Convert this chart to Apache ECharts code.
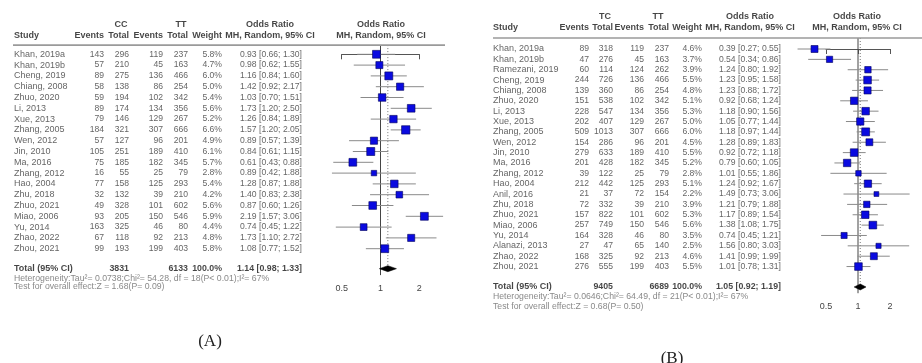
<!DOCTYPE html>
<html><head><meta charset="utf-8">
<script src="https://cdn.jsdelivr.net/npm/echarts@6/dist/echarts.min.js"></script>
<style>html,body{margin:0;padding:0;background:#fff}#c{width:922px;height:363px}</style>
</head><body><div id="c"></div>
<script>
// ---------- Panel A data (CC vs TT) ----------
const studiesA = ['Khan, 2019a','Khan, 2019b','Cheng, 2019','Chiang, 2008','Zhuo, 2020','Li, 2013','Xue, 2013','Zhang, 2005','Wen, 2012','Jin, 2010','Ma, 2016','Zhang, 2012','Hao, 2004','Zhu, 2018','Zhuo, 2021','Miao, 2006','Yu, 2014','Zhao, 2022','Zhou, 2021'];
const eventsA1 = [143,57,89,58,59,89,79,184,57,105,75,16,77,32,49,93,163,67,99];
const totalA1  = [296,210,275,138,194,174,146,321,127,251,185,55,158,132,328,205,325,118,193];
const eventsA2 = [119,45,136,86,102,134,129,307,96,189,182,25,125,39,101,150,46,92,199];
const totalA2  = [237,163,466,254,342,356,267,666,201,410,345,79,293,210,602,546,80,213,403];
const weightA  = [5.8,4.7,6.0,5.0,5.4,5.6,5.2,6.6,4.9,6.1,5.7,2.8,5.4,4.2,5.6,5.9,4.4,4.8,5.8];
const orA      = [0.93,0.98,1.16,1.42,1.03,1.73,1.26,1.57,0.89,0.84,0.61,0.89,1.28,1.40,0.87,2.19,0.74,1.73,1.08];
const loA      = [0.66,0.62,0.84,0.92,0.70,1.20,0.84,1.20,0.57,0.61,0.43,0.42,0.87,0.83,0.60,1.57,0.45,1.10,0.77];
const hiA      = [1.30,1.55,1.60,2.17,1.51,2.50,1.89,2.05,1.39,1.15,0.88,1.88,1.88,2.38,1.26,3.06,1.22,2.72,1.52];
const totalRowA = {ev1: 3831, ev2: 6133, or: 1.14, lo: 0.98, hi: 1.33};
const hetA  = 'Heterogeneity:Tau\u00b2= 0.0738;Chi\u00b2= 54.28, df = 18(P< 0.01);I\u00b2= 67%';
const testA = 'Test for overall effect:Z = 1.68(P= 0.09)';

// ---------- Panel B data (TC vs TT) ----------
const studiesB = ['Khan, 2019a','Khan, 2019b','Ramezani, 2019','Cheng, 2019','Chiang, 2008','Zhuo, 2020','Li, 2013','Xue, 2013','Zhang, 2005','Wen, 2012','Jin, 2010','Ma, 2016','Zhang, 2012','Hao, 2004','Anil, 2016','Zhu, 2018','Zhuo, 2021','Miao, 2006','Yu, 2014','Alanazi, 2013','Zhao, 2022','Zhou, 2021'];
const eventsB1 = [89,47,60,244,139,151,228,202,509,154,279,201,39,212,21,72,157,257,164,27,168,276];
const totalB1  = [318,276,114,726,360,538,547,407,1013,286,633,428,122,442,37,332,822,749,328,47,325,555];
const eventsB2 = [119,45,124,136,86,102,134,129,307,96,189,182,25,125,72,39,101,150,46,65,92,199];
const totalB2  = [237,163,262,466,254,342,356,267,666,201,410,345,79,293,154,210,602,546,80,140,213,403];
const weightB  = [4.6,3.7,3.9,5.5,4.8,5.1,5.3,5.0,6.0,4.5,5.5,5.2,2.8,5.1,2.2,3.9,5.3,5.6,3.5,2.5,4.6,5.5];
const orB      = [0.39,0.54,1.24,1.23,1.23,0.92,1.18,1.05,1.18,1.28,0.92,0.79,1.01,1.24,1.49,1.21,1.17,1.38,0.74,1.56,1.41,1.01];
const loB      = [0.27,0.34,0.80,0.95,0.88,0.68,0.90,0.77,0.97,0.89,0.72,0.60,0.55,0.92,0.73,0.79,0.89,1.08,0.45,0.80,0.99,0.78];
const hiB      = [0.55,0.86,1.92,1.58,1.72,1.24,1.56,1.44,1.44,1.83,1.18,1.05,1.86,1.67,3.06,1.88,1.54,1.75,1.21,3.03,1.99,1.31];
const totalRowB = {ev1: 9405, ev2: 6689, or: 1.05, lo: 0.92, hi: 1.19};
const hetB  = 'Heterogeneity:Tau\u00b2= 0.0646;Chi\u00b2= 64.49, df = 21(P< 0.01);I\u00b2= 67%';
const testB = 'Test for overall effect:Z = 0.68(P= 0.50)';

// ---------- axis ticks ----------
const tickValues = [0.5, 1, 2];
const tickLabels = ['0.5', '1', '2'];

// ---------- layout ----------
const FONT = '"Liberation Sans", Arial, sans-serif';
const L = {
  A: { y0: 54.3, rowH: 10.8, grpY: -2.75, hdrY: -1.75, sepY: -0.85, totY: 19.85, hetY: 20.75, testY: 21.55, axY: 20.45,
       study: 14, ev1: 104, tot1: 129, ev2: 163, tot2: 188, wt: 222, or: 302, g1: 121, g2: 181, orHdr: 270, fHdr: 381,
       sepX: [13, 445], fLeft: 341.7, fWidth: 77.6, g1Name: 'CC', g2Name: 'TT', tag: '(A)', tagX: 210, tagTop: 333 },
  B: { y0: 49, rowH: 10.36, grpY: -3.09, hdrY: -2.03, sepY: -1.06, totY: 22.97, hetY: 23.9, testY: 24.87, axY: 23.58,
       study: 493, ev1: 589, tot1: 613, ev2: 644, tot2: 669, wt: 702, or: 781, g1: 605, g2: 658, orHdr: 750, fHdr: 857,
       sepX: [493, 922], fLeft: 826, fWidth: 64, g1Name: 'TC', g2Name: 'TT', tag: '(B)', tagX: 672, tagTop: 350 }
};

const fmt2 = v => v.toFixed(2);
const ciText = (o, l, h) => fmt2(o) + ' [' + fmt2(l) + '; ' + fmt2(h) + ']';
const lg = Math.log2;

function T(x, y, text, align, bold, size, color) {
  return { value: [x, y], name: text,
    label: { align: align, fontWeight: bold ? 'bold' : 'normal', fontSize: size || 8.6, color: color || (bold ? '#151515' : '#3c3c3c') } };
}

const grids = [], xAxes = [], yAxes = [], series = [], titles = [];

function buildPanel(key, d) {
  const lay = L[key];
  const tMin = -4, tMax = 26;
  const fMin = lay.sepY, fMax = lay.axY;
  const gi = grids.length;
  grids.push({ left: 0, width: 922, top: lay.y0 + tMin * lay.rowH, height: (tMax - tMin) * lay.rowH });
  xAxes.push({ gridIndex: gi, type: 'value', min: 0, max: 922, show: false });
  yAxes.push({ gridIndex: gi, type: 'value', min: tMin, max: tMax, inverse: true, show: false });
  grids.push({ left: lay.fLeft, width: lay.fWidth, top: lay.y0 + fMin * lay.rowH, height: (fMax - fMin) * lay.rowH });
  xAxes.push({ gridIndex: gi + 1, type: 'value', min: -1, max: 1, interval: 1,
    axisLine: { show: true, lineStyle: { color: '#555', width: 1 } },
    axisTick: { show: true, length: 5, lineStyle: { color: '#555' } },
    splitLine: { show: false },
    axisLabel: { fontSize: 9, color: '#444', fontFamily: FONT, margin: 9,
      formatter: (v) => { const k = tickValues.findIndex(t => Math.abs(lg(t) - v) < 1e-6); return k >= 0 ? tickLabels[k] : ''; } } });
  yAxes.push({ gridIndex: gi + 1, type: 'value', min: fMin, max: fMax, inverse: true, show: false });

  const items = [];
  items.push(T(lay.g1, lay.grpY, lay.g1Name, 'center', true, 9));
  items.push(T(lay.g2, lay.grpY, lay.g2Name, 'center', true, 9));
  items.push(T(lay.orHdr, lay.grpY, 'Odds Ratio', 'center', true, 9));
  items.push(T(lay.fHdr, lay.grpY, 'Odds Ratio', 'center', true, 9));
  items.push(T(lay.study, lay.hdrY, 'Study', 'left', true, 9));
  items.push(T(lay.ev1, lay.hdrY, 'Events', 'right', true, 9));
  items.push(T(lay.tot1, lay.hdrY, 'Total', 'right', true, 9));
  items.push(T(lay.ev2, lay.hdrY, 'Events', 'right', true, 9));
  items.push(T(lay.tot2, lay.hdrY, 'Total', 'right', true, 9));
  items.push(T(lay.wt, lay.hdrY, 'Weight', 'right', true, 9));
  items.push(T(lay.orHdr, lay.hdrY, 'MH, Random, 95% CI', 'center', true, 9));
  items.push(T(lay.fHdr, lay.hdrY, 'MH, Random, 95% CI', 'center', true, 9));
  d.studies.forEach((s, i) => {
    items.push(T(lay.study, i, s, 'left', false, 9));
    items.push(T(lay.ev1, i, String(d.ev1[i]), 'right'));
    items.push(T(lay.tot1, i, String(d.tot1[i]), 'right'));
    items.push(T(lay.ev2, i, String(d.ev2[i]), 'right'));
    items.push(T(lay.tot2, i, String(d.tot2[i]), 'right'));
    items.push(T(lay.wt, i, d.wt[i].toFixed(1) + '%', 'right'));
    items.push(T(lay.or, i, ciText(d.or[i], d.lo[i], d.hi[i]), 'right'));
  });
  const tr = d.total;
  items.push(T(lay.study, lay.totY, 'Total (95% CI)', 'left', true, 9));
  items.push(T(lay.tot1, lay.totY, String(tr.ev1), 'right', true, 8.8));
  items.push(T(lay.tot2, lay.totY, String(tr.ev2), 'right', true, 8.8));
  items.push(T(lay.wt, lay.totY, '100.0%', 'right', true, 8.8));
  items.push(T(lay.or, lay.totY, ciText(tr.or, tr.lo, tr.hi), 'right', true, 8.8));
  items.push(T(lay.study, lay.hetY, d.het, 'left', false, 8.7, '#6a6a6a'));
  items.push(T(lay.study, lay.testY, d.test, 'left', false, 8.7, '#6a6a6a'));

  series.push({ type: 'scatter', xAxisIndex: gi, yAxisIndex: gi, symbolSize: 0, silent: true, clip: false,
    label: { show: true, position: 'inside', formatter: '{b}', fontFamily: FONT, verticalAlign: 'middle' },
    data: items, z: 5 });
  series.push({ type: 'line', xAxisIndex: gi, yAxisIndex: gi, symbol: 'none', silent: true,
    lineStyle: { color: '#9a9a9a', width: 1.6 }, data: [[lay.sepX[0], lay.sepY], [lay.sepX[1], lay.sepY]] });

  const fx = gi + 1;
  series.push({ type: 'line', xAxisIndex: fx, yAxisIndex: fx, symbol: 'none', silent: true, z: 1,
    lineStyle: { color: '#444', width: 1 }, data: [[lg(1), fMin], [lg(1), fMax]] });
  series.push({ type: 'line', xAxisIndex: fx, yAxisIndex: fx, symbol: 'none', silent: true, z: 1,
    lineStyle: { color: '#777', width: 1, type: [1, 2] }, data: [[lg(tr.or), fMin], [lg(tr.or), lay.totY]] });
  series.push({ type: 'custom', xAxisIndex: fx, yAxisIndex: fx, clip: false, silent: true, z: 3,
    encode: { x: [1, 2, 3], y: 0 },
    data: d.studies.map((s, i) => [i, lg(d.lo[i]), lg(d.or[i]), lg(d.hi[i]), d.wt[i]]),
    renderItem: (params, api) => {
      const i = api.value(0);
      const p1 = api.coord([api.value(1), i]), p2 = api.coord([api.value(3), i]), c = api.coord([api.value(2), i]);
      const s = 3.25 * Math.sqrt(api.value(4));
      return { type: 'group', children: [
        { type: 'line', shape: { x1: p1[0], y1: p1[1], x2: p2[0], y2: p2[1] }, style: { stroke: '#8a8a8a', lineWidth: 1 } },
        { type: 'rect', shape: { x: c[0] - s / 2, y: c[1] - s / 2, width: s, height: s }, style: { fill: '#0a0ae0', stroke: '#00005a', lineWidth: 0.6 } }
      ] };
    } });
  series.push({ type: 'custom', xAxisIndex: fx, yAxisIndex: fx, clip: false, silent: true, z: 4,
    encode: { x: [1, 2, 3], y: 0 },
    data: [[lay.totY, lg(tr.lo), lg(tr.or), lg(tr.hi)]],
    renderItem: (params, api) => {
      const y = api.value(0);
      const a = api.coord([api.value(1), y]), m = api.coord([api.value(2), y]), b = api.coord([api.value(3), y]);
      return { type: 'polygon', shape: { points: [[a[0], a[1]], [m[0], m[1] - 3], [b[0], b[1]], [m[0], m[1] + 3]] },
        style: { fill: '#000', stroke: '#000', lineWidth: 0.5 } };
    } });

  titles.push({ text: lay.tag, left: lay.tagX, top: lay.tagTop, textAlign: 'center', padding: 0,
    textStyle: { fontFamily: '"Liberation Serif", "DejaVu Serif", serif', fontSize: 17, fontWeight: 'normal', color: '#222' } });
}

buildPanel('A', { studies: studiesA, ev1: eventsA1, tot1: totalA1, ev2: eventsA2, tot2: totalA2, wt: weightA, or: orA, lo: loA, hi: hiA, total: totalRowA, het: hetA, test: testA });
buildPanel('B', { studies: studiesB, ev1: eventsB1, tot1: totalB1, ev2: eventsB2, tot2: totalB2, wt: weightB, or: orB, lo: loB, hi: hiB, total: totalRowB, het: hetB, test: testB });

const chart = echarts.init(document.getElementById('c'), null, { renderer: 'canvas' });
chart.setOption({ animation: false, backgroundColor: '#fff', title: titles, grid: grids, xAxis: xAxes, yAxis: yAxes, series: series });
</script></body></html>
